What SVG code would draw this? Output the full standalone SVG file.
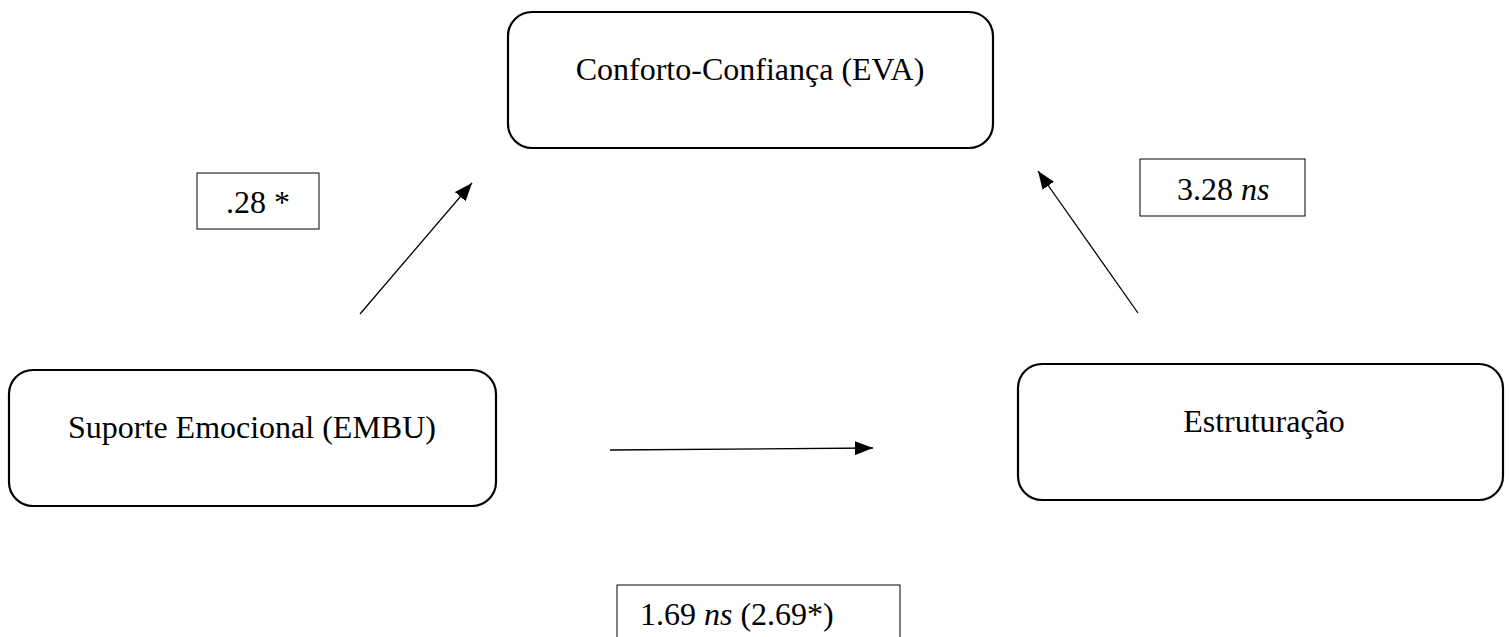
<svg xmlns="http://www.w3.org/2000/svg" width="1511" height="637" viewBox="0 0 1511 637">
<style>
.node{fill:#fff;stroke:#000;stroke-width:2.2}
.lbl{fill:#fff;stroke:#000;stroke-width:1}
.t{font-family:"Liberation Serif","Times New Roman",serif;font-size:32px;fill:#000}
.c{stroke:#000;stroke-width:1.3;fill:none}
</style>
<defs>
<marker id="ah" viewBox="0 0 18 14" refX="18" refY="7" markerWidth="18" markerHeight="14" markerUnits="userSpaceOnUse" orient="auto">
<path d="M0,0 L18,7 L0,14 Z" fill="#000"/>
</marker>
</defs>
<rect width="1511" height="637" fill="#fff"/>
<g id="connectors">
<line class="c" x1="360" y1="314" x2="472" y2="183" marker-end="url(#ah)"/>
<line class="c" x1="1138" y1="313" x2="1038" y2="171" marker-end="url(#ah)"/>
<line class="c" x1="610" y1="450" x2="873" y2="448" marker-end="url(#ah)"/>
</g>
<g id="node-conforto">
<rect class="node" x="508" y="12" width="485" height="136" rx="24"/>
<text class="t" x="750" y="80" text-anchor="middle">Conforto-Confiança (EVA)</text>
</g>
<g id="node-suporte">
<rect class="node" x="9" y="370" width="487" height="136" rx="24"/>
<text class="t" x="252" y="438" text-anchor="middle">Suporte Emocional (EMBU)</text>
</g>
<g id="node-estruturacao">
<rect class="node" x="1018" y="364" width="485" height="136" rx="24"/>
<text class="t" x="1264" y="432" text-anchor="middle">Estruturação</text>
</g>
<g id="label-028">
<rect class="lbl" x="197" y="173" width="122" height="56"/>
<text class="t" x="258" y="213" text-anchor="middle">.28 *</text>
</g>
<g id="label-328">
<rect class="lbl" x="1140" y="159" width="165" height="57"/>
<text class="t" x="1177" y="200">3.28 <tspan font-style="italic">ns</tspan></text>
</g>
<g id="label-169">
<rect class="lbl" x="617" y="585" width="283" height="70"/>
<text class="t" x="640" y="625">1.69 <tspan font-style="italic">ns</tspan> (2.69*)</text>
</g>
</svg>
